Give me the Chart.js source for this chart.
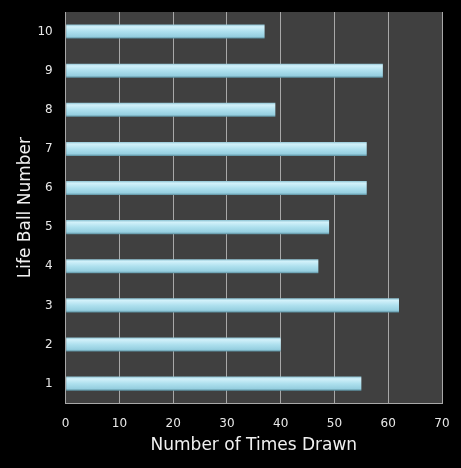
<!DOCTYPE html>
<html>
<head>
<meta charset="utf-8">
<script src="https://cdn.jsdelivr.net/npm/chart.js@4"></script>
<style>
  html, body { margin: 0; padding: 0; background: #000; }
  #wrap { width: 461px; height: 468px; }
</style>
</head>
<body>
<div id="wrap"><canvas id="balls"></canvas></div>
<script>
const balls = ['1', '2', '3', '4', '5', '6', '7', '8', '9', '10'];
const timesDrawn = [55, 40, 62, 47, 49, 56, 56, 39, 59, 37];
const xTicks = [0, 10, 20, 30, 40, 50, 60, 70];

// grey plot area behind the bars
const plotBg = {
    id: 'plotBg',
    beforeDraw(chart) {
        const a = chart.chartArea;
        const ctx = chart.ctx;
        ctx.save();
        ctx.fillStyle = '#404040';
        ctx.fillRect(a.left, a.top, a.right - a.left, a.bottom - a.top);
        ctx.restore();
    }
};

function barFill(context) {
    const chart = context.chart;
    if (!chart.chartArea) return '#a6dbea';
    const y = chart.scales.y.getPixelForValue(context.dataIndex);
    const g = chart.ctx.createLinearGradient(0, y - 7, 0, y + 7);
    g.addColorStop(0, '#8fc4d4');
    g.addColorStop(0.15, '#d2f1fa');
    g.addColorStop(0.5, '#aee0ee');
    g.addColorStop(0.85, '#96cfe0');
    g.addColorStop(1, '#5b8f9f');
    return g;
}

new Chart(document.getElementById('balls'), {
    type: 'bar',
    data: {
        labels: balls,
        datasets: [{
            label: 'Times drawn',
            data: timesDrawn,
            backgroundColor: barFill,
            borderWidth: 0,
            barPercentage: 0.36,
            categoryPercentage: 1
        }]
    },
    options: {
        indexAxis: 'y',
        responsive: true,
        maintainAspectRatio: false,
        animation: false,
        layout: { padding: { top: 12, right: 19, left: 11, bottom: 8 } },
        plugins: {
            legend: { display: false },
            tooltip: { enabled: false }
        },
        scales: {
            x: {
                min: 0,
                max: 70,
                afterBuildTicks(axis) { axis.ticks = xTicks.map(v => ({ value: v })); },
                grid: { color: '#a8a8a8', lineWidth: 1, drawTicks: true, tickLength: 11, tickColor: 'transparent' },
                border: { color: '#a8a8a8' },
                ticks: { color: '#e8e8e8', padding: 2, font: { family: 'DejaVu Sans', size: 12 } },
                title: {
                    display: true,
                    text: 'Number of Times Drawn',
                    color: '#f0f0f0',
                    font: { family: 'DejaVu Sans', size: 17 },
                    padding: { top: 3, bottom: 4 }
                }
            },
            y: {
                reverse: true,
                grid: { display: false, drawTicks: true, tickLength: 11 },
                border: { color: '#a8a8a8' },
                ticks: { color: '#e8e8e8', padding: 2, font: { family: 'DejaVu Sans', size: 12 } },
                title: {
                    display: true,
                    text: 'Life Ball Number',
                    color: '#f0f0f0',
                    font: { family: 'DejaVu Sans', size: 17 },
                    padding: { top: 4, bottom: 0 }
                }
            }
        }
    },
    plugins: [plotBg]
});
</script>
</body>
</html>
